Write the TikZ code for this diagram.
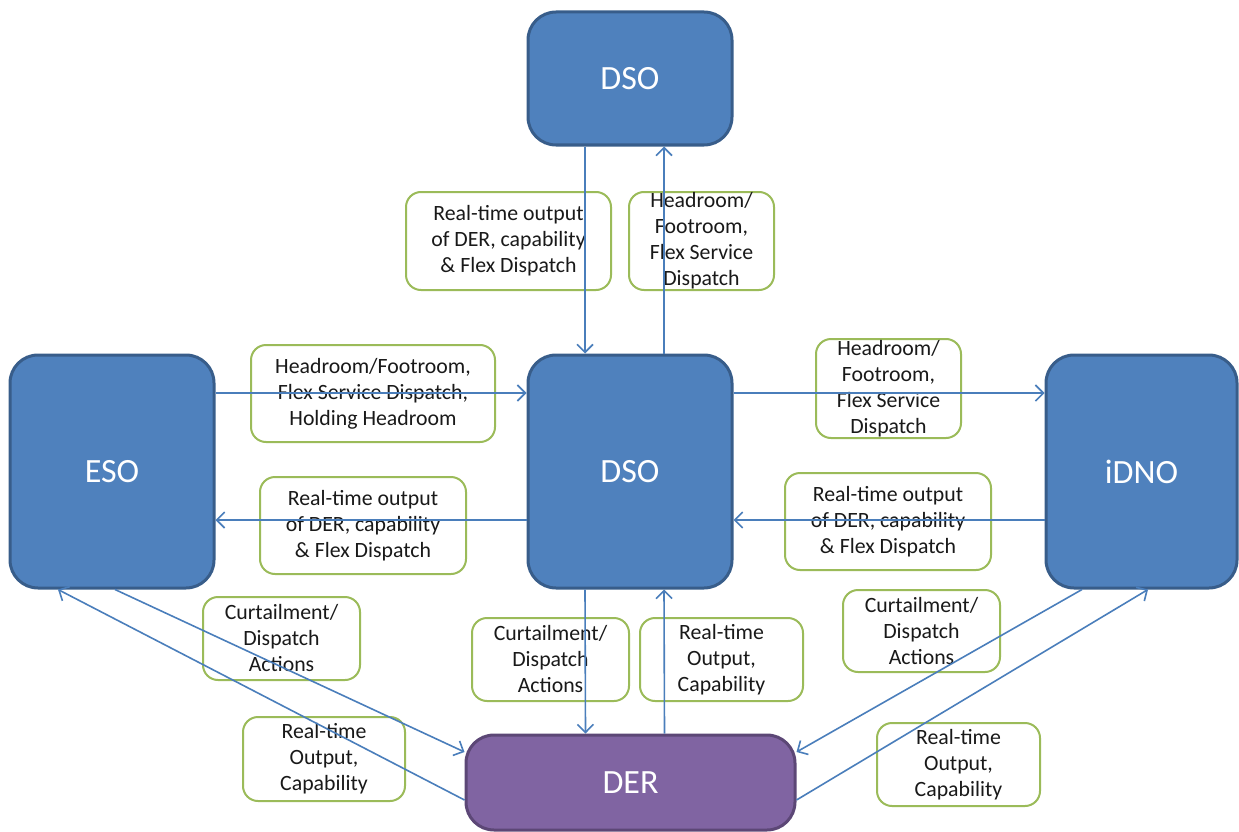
\documentclass[tikz,border=0pt]{standalone}
\usepackage{fontspec}
\setmainfont{Carlito}
\usetikzlibrary{arrows.meta}
\definecolor{boxblue}{HTML}{4F81BD}
\definecolor{boxblueline}{HTML}{385D8A}
\definecolor{derfill}{HTML}{8064A2}
\definecolor{derline}{HTML}{5C4776}
\definecolor{lblgreen}{HTML}{9BBB59}
\definecolor{flowblue}{HTML}{4A7EBB}
\tikzset{
  party/.style={draw=boxblueline, fill=boxblue, line width=3pt, rounded corners=28pt,
    inner sep=0pt, text=white, font=\fontsize{34}{40}\selectfont},
  derbox/.style={party, draw=derline, fill=derfill},
  msg/.style={draw=lblgreen, fill=white, line width=2pt, rounded corners=15pt,
    inner sep=0pt, align=center, text=black!90, font=\fontsize{21.8}{26}\selectfont},
  flow/.style={draw=flowblue, line width=1.6pt,
    -{Straight Barb[length=8pt,width=16pt,line width=1.6pt]}}
}
\begin{document}
\begin{tikzpicture}[x=1pt,y=-1pt]
\useasboundingbox (0,0) rectangle (1239,832);

% organisations
\node[party, minimum width=204pt, minimum height=133pt] (dsotop) at (630,78.5) {DSO};
\node[party, minimum width=204pt, minimum height=233pt] (dso) at (630,471.5) {DSO};
\node[party, minimum width=204pt, minimum height=233pt] (eso) at (112,471.5) {ESO};
\node[party, minimum width=191pt, minimum height=233pt] (idno) at (1141.5,471.5) {iDNO};
\node[derbox, minimum width=329pt, minimum height=95pt] (der) at (630.5,782.5) {DER};

% message labels
\node[msg, minimum width=205pt, minimum height=98pt] (m1) at (508.5,241)
  {Real-time output\\of DER, capability\\\& Flex Dispatch};
\node[msg, minimum width=145pt, minimum height=98pt] (m2) at (701.5,241)
  {Headroom/\\Footroom,\\Flex Service\\Dispatch};
\node[msg, minimum width=244pt, minimum height=97pt] (m3) at (373,393.5)
  {Headroom/Footroom,\\Flex Service Dispatch,\\Holding Headroom};
\node[msg, minimum width=145pt, minimum height=99pt] (m4) at (888.5,388.5)
  {Headroom/\\Footroom,\\Flex Service\\Dispatch};
\node[msg, minimum width=206pt, minimum height=97pt] (m5) at (363,525.5)
  {Real-time output\\of DER, capability\\\& Flex Dispatch};
\node[msg, minimum width=206pt, minimum height=97pt] (m6) at (888,521.5)
  {Real-time output\\of DER, capability\\\& Flex Dispatch};
\node[msg, minimum width=157pt, minimum height=83pt] (m7) at (281.5,638.5)
  {Curtailment/\\Dispatch\\Actions};
\node[msg, minimum width=157pt, minimum height=83pt] (m8) at (550.5,659.5)
  {Curtailment/\\Dispatch\\Actions};
\node[msg, minimum width=163pt, minimum height=83pt] (m9) at (721.5,659.5)
  {Real-time\\Output,\\Capability};
\node[msg, minimum width=157pt, minimum height=82pt] (m10) at (921.5,631)
  {Curtailment/\\Dispatch\\Actions};
\node[msg, minimum width=162pt, minimum height=84pt] (m11) at (324,759)
  {Real-time\\Output,\\Capability};
\node[msg, minimum width=163pt, minimum height=83pt] (m12) at (958.5,764.5)
  {Real-time\\Output,\\Capability};

% information flows
\draw[flow] ([xshift=-45pt]dsotop.south) -- ([xshift=-45pt]dso.north);
\draw[flow] ([xshift=34pt]dso.north) -- ([xshift=34pt]dsotop.south);
\draw[flow] ([yshift=78.5pt]eso.east) -- ([yshift=78.5pt]dso.west);
\draw[flow] ([yshift=-48.5pt]dso.west) -- ([yshift=-48.5pt]eso.east);
\draw[flow] ([yshift=78.5pt]dso.east) -- ([yshift=78.5pt]idno.west);
\draw[flow] ([yshift=-48.5pt]idno.west) -- ([yshift=-48.5pt]dso.east);
\draw[flow] ([xshift=-45pt]dso.south) -- ([xshift=-45pt]der.north);
\draw[flow] ([xshift=34pt]der.north) -- ([xshift=34pt]dso.south);
\draw[flow] ([xshift=3pt]eso.south) -- ([yshift=30.5pt]der.west);
\draw[flow] ([yshift=-17.5pt]der.west) -- ([xshift=-54pt]eso.south);
\draw[flow] ([xshift=-59.5pt]idno.south) -- ([yshift=30.5pt]der.east);
\draw[flow] ([yshift=-17.5pt]der.east) -- ([xshift=6.5pt]idno.south);
\end{tikzpicture}
\end{document}
